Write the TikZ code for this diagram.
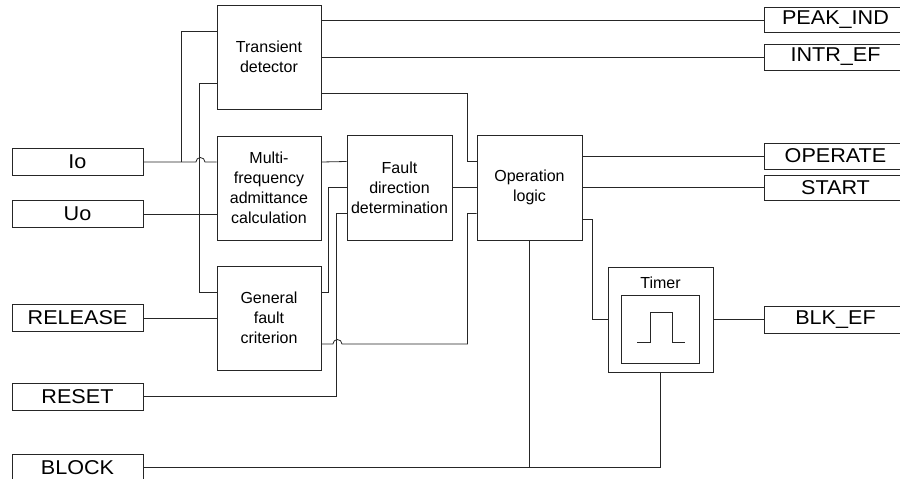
\documentclass[tikz,border=0pt]{standalone}
\usepackage{fontspec}
\setmainfont{Liberation Sans}
\newfontfamily\sigfont[FakeStretch=1.08]{Liberation Sans}
\usetikzlibrary{positioning,calc}

\begin{document}
\begin{tikzpicture}[x=1pt, y=-1pt,
    block/.style={rectangle, draw=black!85, line width=0.9pt, fill=white, minimum width=104pt, minimum height=104pt, align=center, inner sep=0pt, font=\fontsize{16}{20}\selectfont},
    sig/.style={rectangle, draw=black!85, line width=0.9pt, fill=white, minimum width=131pt, minimum height=27pt, inner sep=0pt, font=\sigfont\fontsize{20}{22}\selectfont},
    outsig/.style={sig, minimum width=143pt, minimum height=25pt},
    wire/.style={line width=0.8pt, black!85},
    hop/.style={start angle=180, end angle=0, radius=4.5pt}
  ]
    \useasboundingbox (0,0) rectangle (900,479);

    % --- INPUTS ---
    \node[sig] (io) at (77.5,162) {Io};
    \node[sig] (uo) at (77.5,214) {Uo};
    \node[sig] (release) at (77.5,318) {RELEASE};
    \node[sig] (reset) at (77.5,396.5) {RESET};
    \node[sig] (block) at (77.5,467.5) {BLOCK};

    % --- FUNCTION BLOCKS ---
    \node[block] (trans) at (269,57) {Transient\\ detector};
    \node[block] (multi) at (269,188) {Multi-\\ frequency\\ admittance\\ calculation};
    \node[block] (general) at (269,318) {General\\ fault\\ criterion};
    \node[block, minimum width=105pt, minimum height=105pt] (fdd) at (399.5,187.5) {Fault\\ direction\\ determination};
    \node[block, minimum width=105pt, minimum height=105pt] (oplogic) at (529.5,187.5) {Operation\\ logic};
    \node[block, minimum width=105pt, minimum height=105pt] (timer) at (660.5,319.5) {};
    \node[rectangle, draw=black!85, line width=0.9pt, minimum width=78pt, minimum height=68pt] (pulse) at (660,329) {};
    \node[font=\fontsize{16}{20}\selectfont] (timerlbl) at ([yshift=-16pt]timer.north) {Timer};
    \draw[wire] ([xshift=-23pt,yshift=-13pt]pulse.center) -- ++(13pt,0) -- ++(0,30pt) -- ++(22pt,0) -- ++(0,-30pt) -- ++(13pt,0);

    % --- OUTPUTS ---
    \node[outsig] (peak) at (835.5,20) {PEAK\_IND};
    \node[outsig, minimum height=26pt] (intr) at (835.5,57) {INTR\_EF};
    \node[outsig, minimum height=26pt] (operate) at (835.5,156) {OPERATE};
    \node[outsig] (start) at (835.5,187.5) {START};
    \node[outsig, minimum height=27pt] (blkef) at (835.5,319.5) {BLK\_EF};

    % --- WIRING ---
    \coordinate (jio) at (181,162);
    \draw[wire] (io.east) -- ++(52.5pt,0) arc[hop] -- ([yshift=26pt]multi.west);
    \draw[wire] (jio) |- ([yshift=26pt]trans.west);
    \draw[wire] ([yshift=-26pt]trans.west) -- ++(-17pt,0) |- ([yshift=26pt]general.west);
    \draw[wire] (uo.east) -- ([yshift=-26pt]multi.west);
    \draw[wire] (release.east) -- (general.west);

    \draw[wire] ([yshift=37pt]trans.east) -- (peak.west);
    \draw[wire] (trans.east) -- (intr.west);
    \draw[wire] ([yshift=-36pt]trans.east) -| ([xshift=-9pt,yshift=26pt]oplogic.west) -- ([yshift=26pt]oplogic.west);

    \draw[wire] ([yshift=26pt]multi.east) -- ([yshift=26pt]fdd.west);
    \draw[wire] ([yshift=26pt]general.east) -| ([xshift=-18pt]fdd.west) -- (fdd.west);
    \draw[wire] (reset.east) -| ([xshift=-10pt,yshift=-26pt]fdd.west) -- ([yshift=-26pt]fdd.west);
    \draw[wire] ([yshift=-26pt]general.east) -- ++(11.5pt,0) arc[hop] -| ([xshift=-9pt,yshift=-26pt]oplogic.west) -- ([yshift=-26pt]oplogic.west);
    \draw[wire] (fdd.east) -- (oplogic.west);

    \draw[wire] ([yshift=31.5pt]oplogic.east) -- (operate.west);
    \draw[wire] (oplogic.east) -- (start.west);
    \draw[wire] ([yshift=-31.5pt]oplogic.east) -- ++(10pt,0) |- (timer.west);
    \draw[wire] (timer.east) -- (blkef.west);

    \draw[wire] (block.east) -| (timer.south);
    \draw[wire] (oplogic.south) -- (oplogic.south |- block.east);
  \end{tikzpicture}
\end{document}
